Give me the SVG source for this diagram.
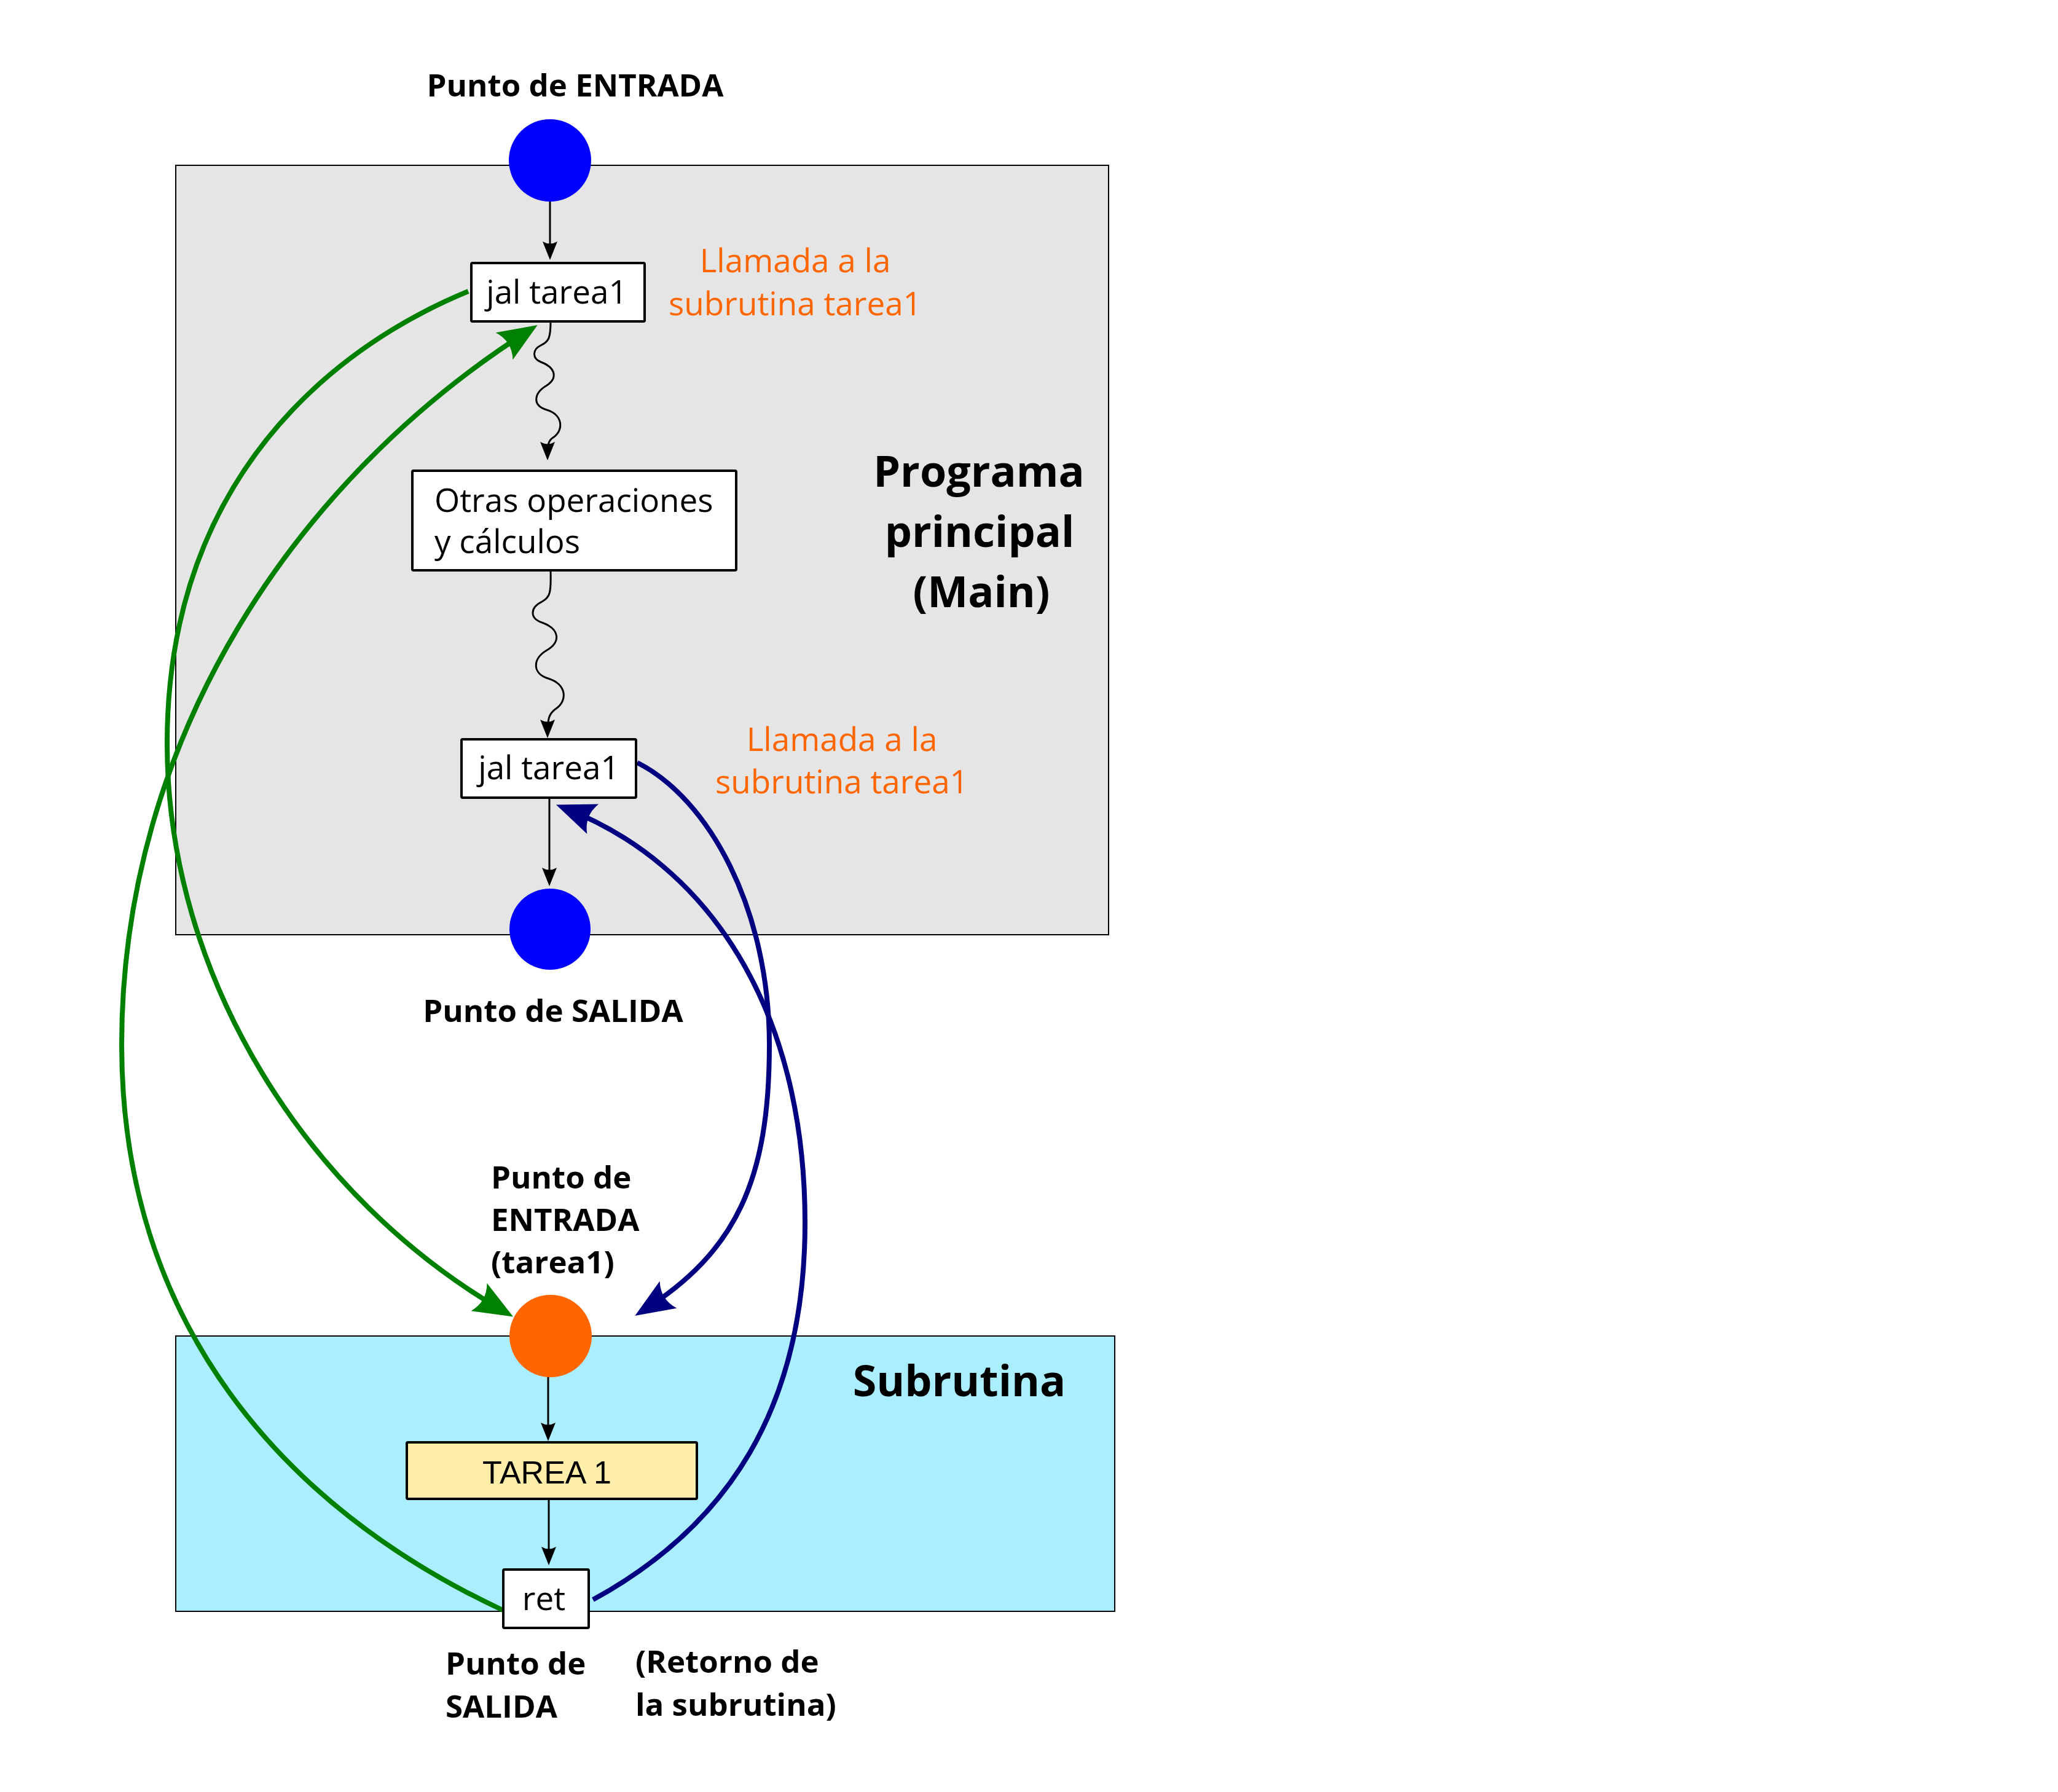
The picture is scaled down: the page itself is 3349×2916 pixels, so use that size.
<svg xmlns="http://www.w3.org/2000/svg" width="3349" height="2916" viewBox="0 0 3349 2916">
<style>
.lbl{font-family:"Open Sans","Noto Sans",sans-serif;font-weight:bold;font-size:51px;fill:#000}
.big{font-family:"Open Sans","Noto Sans",sans-serif;font-weight:bold;font-size:70px;fill:#000;text-anchor:middle}
.call{font-family:"Open Sans","Noto Sans",sans-serif;font-size:53px;fill:#ff6600;text-anchor:middle}
.box{fill:#fff;stroke:#000;stroke-width:4}
.btxt{font-family:"Open Sans","Noto Sans",sans-serif;font-size:53px;fill:#000}
.blk{fill:none;stroke:#000;stroke-width:3;marker-end:url(#ab)}
.grn{fill:none;stroke:#008000;stroke-width:8;marker-end:url(#ag)}
.nav{fill:none;stroke:#000080;stroke-width:8;marker-end:url(#an)}
</style>
<defs>
<marker id="ab" markerUnits="userSpaceOnUse" viewBox="-30 -15 40 30" markerWidth="40" markerHeight="30" refX="0" refY="0" orient="auto">
<path d="M6,0 L-24,-12 Q-17,0 -24,12 Z" fill="#000"/>
</marker>
<marker id="ag" markerUnits="userSpaceOnUse" viewBox="-55 -32 75 64" markerWidth="75" markerHeight="64" refX="0" refY="0" orient="auto">
<path d="M15,0 L-49,-26 Q-34,0 -49,26 Z" fill="#008000"/>
</marker>
<marker id="an" markerUnits="userSpaceOnUse" viewBox="-55 -32 75 64" markerWidth="75" markerHeight="64" refX="0" refY="0" orient="auto">
<path d="M15,0 L-49,-26 Q-34,0 -49,26 Z" fill="#000080"/>
</marker>
</defs>
<rect width="3349" height="2916" fill="#fff"/>

<g id="main-program">
<rect x="286" y="269" width="1518" height="1252" fill="#e5e5e5" stroke="#000" stroke-width="2"/>
<text class="big"><tspan x="1593" y="792">Programa</tspan><tspan x="1594" y="890">principal</tspan><tspan x="1597" y="988">(Main)</tspan></text>
</g>

<g id="subroutine">
<rect x="286" y="2174" width="1528" height="448" fill="#aaeeff" stroke="#000" stroke-width="2"/>
<text class="big" x="1561" y="2272">Subrutina</text>
</g>

<g id="connectors">
<path class="blk" d="M895,316 L895,417"/>
<path class="blk" d="M896,523 C896,550 893,556 880,562 C866,569 866,583 880,589 C904,598 908,615 890,627 C868,640 866,660 890,667 C916,675 918,700 900,712 C892,717 891,725 891,743"/>
<path class="blk" d="M896,929 C897,965 895,972 882,979 C862,989 862,1006 882,1013 C912,1024 912,1045 890,1058 C866,1072 866,1096 892,1104 C922,1113 924,1140 905,1153 C893,1161 891,1170 891,1195"/>
<path class="blk" d="M894,1298 L894,1436"/>
<path class="blk" d="M892,2232 L892,2339"/>
<path class="blk" d="M893,2439 L893,2541"/>
<path class="grn" d="M762,474 C650,520 272,700 272,1210 C272,1590 500,1950 822,2135"/>
<path class="grn" d="M818,2620 C458,2452 198,2150 198,1700 C198,1200 482,778 862,537"/>
<path class="nav" d="M1037,1241 C1154,1300 1252,1480 1252,1700 C1252,1920 1198,2037 1046,2133"/>
<path class="nav" d="M965,2603 C1185,2483 1310,2290 1310,1990 C1310,1640 1152,1405 919,1315"/>
</g>

<g id="entry-main">
<circle cx="895" cy="261" r="67" fill="#0000ff"/>
<text class="lbl" x="936" y="157" text-anchor="middle">Punto de ENTRADA</text>
</g>

<g id="jal-1">
<rect class="box" x="767" y="428" width="282" height="95" rx="2"/>
<text class="btxt" x="906" y="494" text-anchor="middle">jal tarea1</text>
</g>
<g id="call-label-1">
<text class="call"><tspan x="1294" y="443">Llamada a la</tspan><tspan x="1294" y="513">subrutina tarea1</tspan></text>
</g>

<g id="otras">
<rect class="box" x="671" y="766" width="527" height="162" rx="2"/>
<text class="btxt"><tspan x="707" y="833">Otras operaciones</tspan><tspan x="707" y="900">y cálculos</tspan></text>
</g>

<g id="jal-2">
<rect class="box" x="751" y="1203" width="284" height="95" rx="2"/>
<text class="btxt" x="893" y="1268" text-anchor="middle">jal tarea1</text>
</g>
<g id="call-label-2">
<text class="call"><tspan x="1370" y="1222">Llamada a la</tspan><tspan x="1370" y="1291">subrutina tarea1</tspan></text>
</g>

<g id="exit-main">
<circle cx="895" cy="1512" r="66" fill="#0000ff"/>
<text class="lbl" x="900" y="1663" text-anchor="middle">Punto de SALIDA</text>
</g>

<g id="entry-sub">
<circle cx="896" cy="2174" r="67" fill="#ff6600"/>
<text class="lbl"><tspan x="799" y="1934">Punto de</tspan><tspan x="799" y="2003">ENTRADA</tspan><tspan x="799" y="2072">(tarea1)</tspan></text>
</g>

<g id="tarea1">
<rect x="662" y="2347" width="472" height="92" rx="2" fill="#ffeeaa" stroke="#000" stroke-width="4"/>
<text x="890" y="2414" text-anchor="middle" font-family="Liberation Sans, Arial, sans-serif" font-size="52" fill="#000">TAREA 1</text>
</g>

<g id="ret">
<rect class="box" x="819" y="2554" width="139" height="95" rx="2"/>
<text class="btxt" x="885" y="2620" text-anchor="middle">ret</text>
<text class="lbl"><tspan x="725" y="2725">Punto de</tspan><tspan x="725" y="2795">SALIDA</tspan></text>
<text class="lbl"><tspan x="1034" y="2722">(Retorno de</tspan><tspan x="1034" y="2792">la subrutina)</tspan></text>
</g>
</svg>
